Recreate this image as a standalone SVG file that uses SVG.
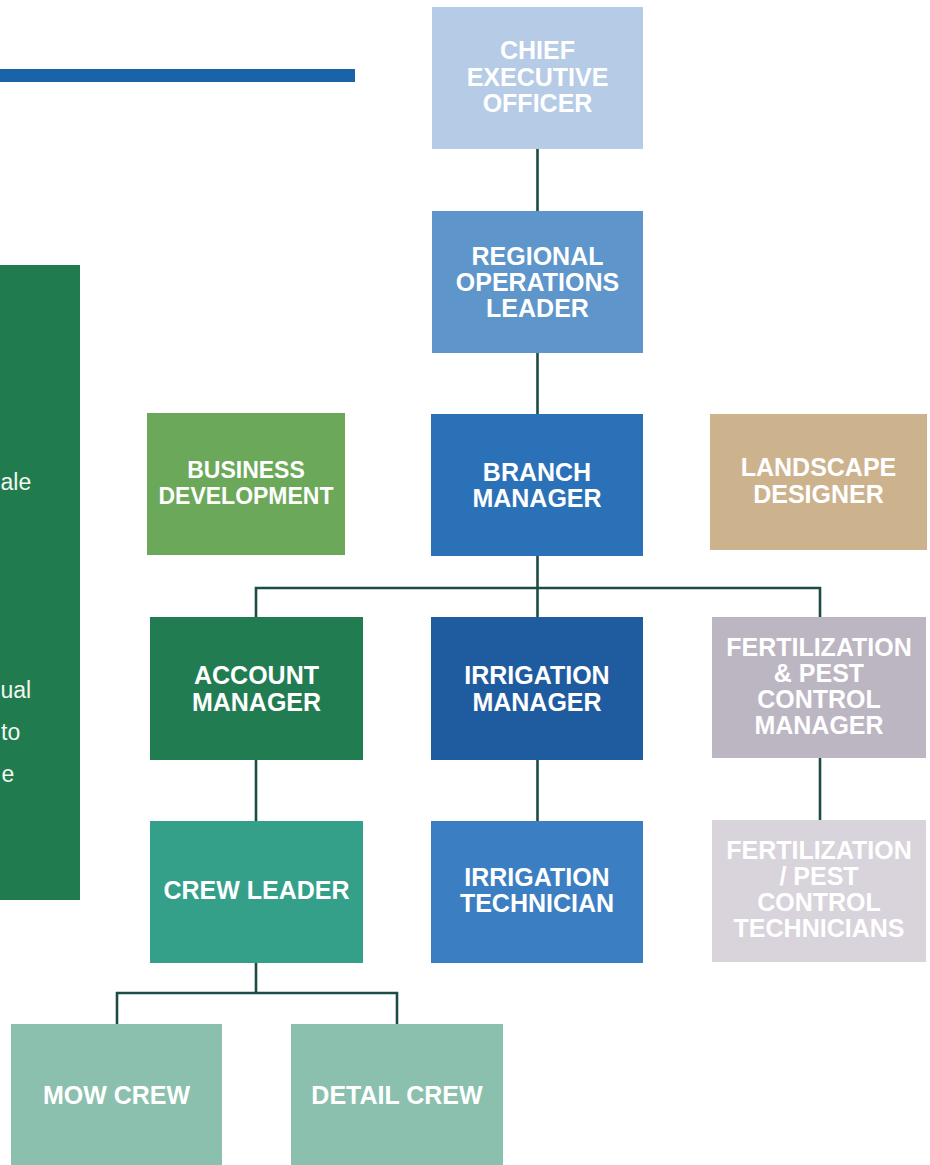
<svg xmlns="http://www.w3.org/2000/svg" width="930" height="1165" viewBox="0 0 930 1165">
<style>
.lbl{font-family:"Liberation Sans",Arial,sans-serif;font-weight:bold;font-size:25px;fill:#ffffff;text-anchor:middle}
.sm{font-size:23px}
.side{font-family:"Liberation Sans",Arial,sans-serif;font-size:23px;fill:#f2f6f2;text-anchor:start}
.conn{stroke:#1b4d46;stroke-width:2.6;fill:none}
</style>
<rect x="0" y="0" width="930" height="1165" fill="#ffffff"/>
<rect id="topbar" x="0" y="69" width="355" height="13" fill="#1b63a8"/>
<g id="sidepanel">
<rect x="0" y="265" width="80" height="635" fill="#207b4e"/>
<text class="side" x="0.5" y="490">ale</text>
<text class="side" x="0.5" y="698">ual</text>
<text class="side" x="1" y="740">to</text>
<text class="side" x="1.5" y="782">e</text>
</g>
<g id="connectors">
<path class="conn" d="M537.5 149V211M537.5 353V414M537.5 556V617M256 617V588H820V617"/>
<path class="conn" d="M256 760V821M537.5 760V821M820 758V820"/>
<path class="conn" d="M256 963V993M117 1024V993H397V1024"/>
</g>
<g id="ceo">
<rect x="432" y="7" width="211" height="142" fill="#b6cbe6"/>
<text class="lbl" x="537.5" y="59">CHIEF</text>
<text class="lbl" x="537.5" y="86">EXECUTIVE</text>
<text class="lbl" x="537.5" y="112">OFFICER</text>
</g>
<g id="regional">
<rect x="432" y="211" width="211" height="142" fill="#5e95cb"/>
<text class="lbl" x="537.5" y="265">REGIONAL</text>
<text class="lbl" x="537.5" y="291">OPERATIONS</text>
<text class="lbl" x="537.5" y="317">LEADER</text>
</g>
<g id="branch">
<rect x="431" y="414" width="212" height="142" fill="#2a71b7"/>
<text class="lbl" x="537" y="481">BRANCH</text>
<text class="lbl" x="537" y="507">MANAGER</text>
</g>
<g id="bizdev">
<rect x="147" y="413" width="198" height="142" fill="#6ca85a"/>
<text class="lbl sm" x="246" y="478">BUSINESS</text>
<text class="lbl sm" x="246" y="504">DEVELOPMENT</text>
</g>
<g id="landscape">
<rect x="710" y="414" width="217" height="136" fill="#ccb38e"/>
<text class="lbl" x="818.5" y="476">LANDSCAPE</text>
<text class="lbl" x="818.5" y="503">DESIGNER</text>
</g>
<g id="account">
<rect x="150" y="617" width="213" height="143" fill="#217c52"/>
<text class="lbl" x="256.5" y="684">ACCOUNT</text>
<text class="lbl" x="256.5" y="711">MANAGER</text>
</g>
<g id="irrmgr">
<rect x="431" y="617" width="212" height="143" fill="#1f5c9f"/>
<text class="lbl" x="537" y="684">IRRIGATION</text>
<text class="lbl" x="537" y="711">MANAGER</text>
</g>
<g id="fertmgr">
<rect x="712" y="617" width="214" height="141" fill="#bcb5c2"/>
<text class="lbl" x="819" y="656">FERTILIZATION</text>
<text class="lbl" x="819" y="682">&amp; PEST</text>
<text class="lbl" x="819" y="708">CONTROL</text>
<text class="lbl" x="819" y="734">MANAGER</text>
</g>
<g id="crewleader">
<rect x="150" y="821" width="213" height="142" fill="#35a08a"/>
<text class="lbl" x="256.5" y="899">CREW LEADER</text>
</g>
<g id="irrtech">
<rect x="431" y="821" width="212" height="142" fill="#3b7ec2"/>
<text class="lbl" x="537" y="886">IRRIGATION</text>
<text class="lbl" x="537" y="912">TECHNICIAN</text>
</g>
<g id="ferttech">
<rect x="712" y="820" width="214" height="142" fill="#d9d3db"/>
<text class="lbl" x="819" y="859">FERTILIZATION</text>
<text class="lbl" x="819" y="885">/ PEST</text>
<text class="lbl" x="819" y="911">CONTROL</text>
<text class="lbl" x="819" y="937">TECHNICIANS</text>
</g>
<g id="mowcrew">
<rect x="11" y="1024" width="211" height="141" fill="#8bc0ae"/>
<text class="lbl" x="116.5" y="1104">MOW CREW</text>
</g>
<g id="detailcrew">
<rect x="291" y="1024" width="212" height="141" fill="#8bc0ae"/>
<text class="lbl" x="397" y="1104">DETAIL CREW</text>
</g>
</svg>
